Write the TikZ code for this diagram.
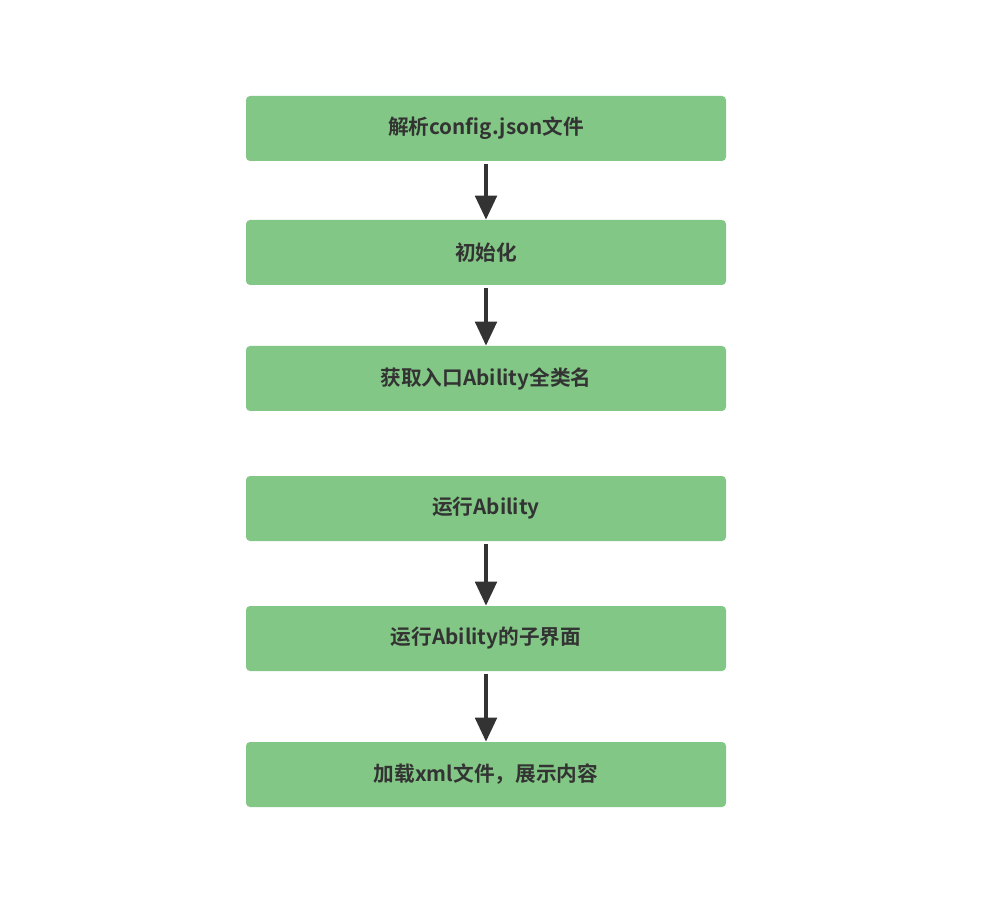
\documentclass[tikz,border=0pt]{standalone}
\usepackage{fontspec}
\setmainfont{Noto Sans CJK SC}[BoldFont={Noto Sans CJK SC Bold}]
\usetikzlibrary{arrows.meta}
\definecolor{boxg}{HTML}{82C785}
\definecolor{ink}{HTML}{333333}
\tikzset{
  stepbox/.style={fill=boxg, rounded corners=3pt, minimum width=360pt, minimum height=48.75pt, inner sep=0pt, text=ink, font=\bfseries\fontsize{15.5pt}{18pt}\selectfont},
  arr/.style={draw=ink, line width=3pt, -{Triangle[length=18pt,width=16pt]}}
}
\begin{document}
\begin{tikzpicture}[x=0.75pt,y=-0.75pt]
\useasboundingbox (0,0) rectangle (1004,916);
\node[stepbox] (a) at (486,128.5) {解析config.json文件};
\node[stepbox] (b) at (486,252.5) {初始化};
\node[stepbox] (c) at (486,378.5) {获取入口Ability全类名};
\node[stepbox] (d) at (486,508.5) {运行Ability};
\node[stepbox] (e) at (486,638.5) {运行Ability的子界面};
\node[stepbox] (f) at (486,774.5) {加载xml文件，展示内容};
\draw[arr] ([yshift=-2pt]a.south) -- (b.north);
\draw[arr] ([yshift=-2pt]b.south) -- (c.north);
\draw[arr] ([yshift=-2pt]d.south) -- (e.north);
\draw[arr] ([yshift=-2pt]e.south) -- (f.north);
\end{tikzpicture}
\end{document}
